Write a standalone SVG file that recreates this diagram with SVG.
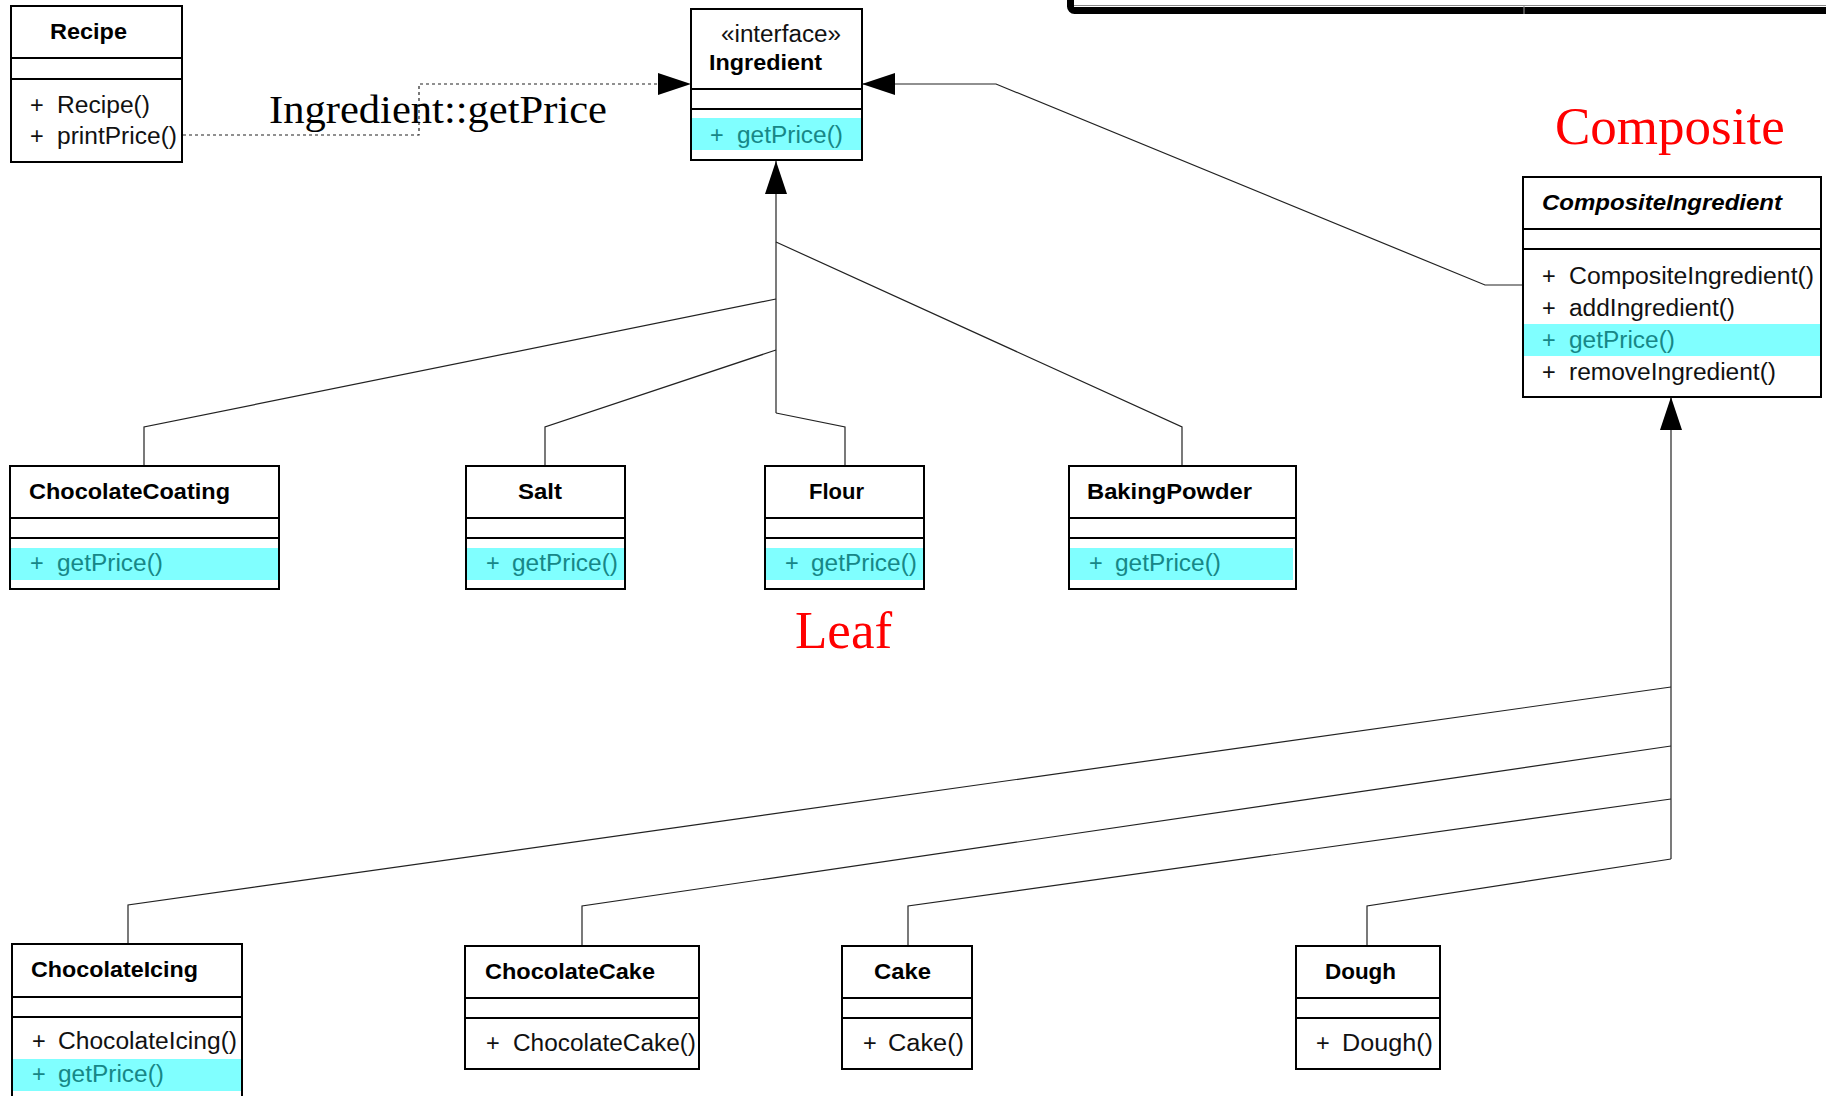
<svg xmlns="http://www.w3.org/2000/svg" width="1826" height="1096" viewBox="0 0 1826 1096">
<style>
.box{fill:#fff;stroke:#000;stroke-width:2}
.dv{stroke:#000;stroke-width:2}
.hl{fill:#80ffff}
.nm{font-family:"Liberation Sans",Arial,sans-serif;font-weight:bold;font-size:22px;fill:#000}
.it{font-style:italic}
.op{font-family:"Liberation Sans",Arial,sans-serif;font-size:23.5px;fill:#111}
.tl{fill:#178787}
.conn{fill:none;stroke:#222;stroke-width:1.2}
.dash{fill:none;stroke:#222;stroke-width:1.2;stroke-dasharray:3 3}
.red{font-family:"Liberation Serif","Times New Roman",serif;font-size:53px;fill:#ff0000}
.lbl{font-family:"Liberation Serif","Times New Roman",serif;font-size:41px;fill:#000}
</style>
<defs>
<marker id="tri" viewBox="0 0 33 22" refX="33" refY="11" markerWidth="33" markerHeight="22" markerUnits="userSpaceOnUse" orient="auto">
<path d="M0,0 L33,11 L0,22 Z" fill="#000"/>
</marker>
</defs>

<g id="frame-top-right">
<rect x="1070.5" y="-60" width="800" height="70.5" rx="4" fill="#fff" stroke="#000" stroke-width="7"/>
<line x1="1074" y1="5.5" x2="1826" y2="5.5" stroke="#888" stroke-width="1"/>
<line x1="1524" y1="6" x2="1524" y2="14" stroke="#999" stroke-width="1"/>
</g>

<g id="connectors">
<polyline class="dash" points="183,135 419,135 419,84 691,84" marker-end="url(#tri)"/>
<polyline class="conn" points="1523,285 1485,285 996,84 862,84" marker-end="url(#tri)"/>
<polyline class="conn" points="776,413 776,161" marker-end="url(#tri)"/>
<polyline class="conn" points="776,299 144,427 144,466"/>
<polyline class="conn" points="776,350 545,427 545,466"/>
<polyline class="conn" points="776,413 845,427 845,466"/>
<polyline class="conn" points="776,242 1182,427 1182,466"/>
<polyline class="conn" points="1671,859 1671,397" marker-end="url(#tri)"/>
<polyline class="conn" points="1671,687 128,905 128,944"/>
<polyline class="conn" points="1671,746 582,906 582,946"/>
<polyline class="conn" points="1671,799 908,906 908,946"/>
<polyline class="conn" points="1671,859 1367,906 1367,946"/>
</g>

<g id="label-getprice">
<text class="lbl" x="269" y="123" textLength="338" lengthAdjust="spacingAndGlyphs">Ingredient::getPrice</text>
</g>
<g id="label-composite">
<text class="red" x="1555" y="144">Composite</text>
</g>
<g id="label-leaf">
<text class="red" x="795" y="648">Leaf</text>
</g>

<g id="Recipe">
<rect class="box" x="11" y="6" width="171" height="156"/>
<line class="dv" x1="11" y1="58" x2="182" y2="58"/>
<line class="dv" x1="11" y1="79" x2="182" y2="79"/>
<text class="nm" x="50" y="39" textLength="77" lengthAdjust="spacingAndGlyphs">Recipe</text>
<text class="op" x="30" y="113">+</text>
<text class="op" x="57" y="113" textLength="93" lengthAdjust="spacingAndGlyphs">Recipe()</text>
<text class="op" x="30" y="144">+</text>
<text class="op" x="57" y="144" textLength="120" lengthAdjust="spacingAndGlyphs">printPrice()</text>
</g>

<g id="Ingredient">
<rect class="box" x="691" y="9" width="171" height="151"/>
<line class="dv" x1="691" y1="89" x2="862" y2="89"/>
<line class="dv" x1="691" y1="109" x2="862" y2="109"/>
<rect class="hl" x="692" y="118" width="169" height="32"/>
<text class="op" x="721" y="42" textLength="120" lengthAdjust="spacingAndGlyphs">«interface»</text>
<text class="nm" x="709" y="70" textLength="113" lengthAdjust="spacingAndGlyphs">Ingredient</text>
<text class="op tl" x="710" y="143">+</text>
<text class="op tl" x="737" y="143" textLength="106" lengthAdjust="spacingAndGlyphs">getPrice()</text>
</g>

<g id="CompositeIngredient">
<rect class="box" x="1523" y="177" width="298" height="220"/>
<line class="dv" x1="1523" y1="229" x2="1821" y2="229"/>
<line class="dv" x1="1523" y1="249" x2="1821" y2="249"/>
<rect class="hl" x="1524" y="324" width="296" height="32"/>
<text class="nm it" x="1542" y="210" textLength="240" lengthAdjust="spacingAndGlyphs">CompositeIngredient</text>
<text class="op" x="1542" y="284">+</text>
<text class="op" x="1569" y="284" textLength="245" lengthAdjust="spacingAndGlyphs">CompositeIngredient()</text>
<text class="op" x="1542" y="316">+</text>
<text class="op" x="1569" y="316" textLength="166" lengthAdjust="spacingAndGlyphs">addIngredient()</text>
<text class="op tl" x="1542" y="348">+</text>
<text class="op tl" x="1569" y="348" textLength="106" lengthAdjust="spacingAndGlyphs">getPrice()</text>
<text class="op" x="1542" y="380">+</text>
<text class="op" x="1569" y="380" textLength="207" lengthAdjust="spacingAndGlyphs">removeIngredient()</text>
</g>

<g id="ChocolateCoating">
<rect class="box" x="10" y="466" width="269" height="123"/>
<line class="dv" x1="10" y1="518" x2="279" y2="518"/>
<line class="dv" x1="10" y1="538" x2="279" y2="538"/>
<rect class="hl" x="11" y="548" width="267" height="32"/>
<text class="nm" x="29" y="499" textLength="201" lengthAdjust="spacingAndGlyphs">ChocolateCoating</text>
<text class="op tl" x="30" y="571">+</text>
<text class="op tl" x="57" y="571" textLength="106" lengthAdjust="spacingAndGlyphs">getPrice()</text>
</g>

<g id="Salt">
<rect class="box" x="466" y="466" width="159" height="123"/>
<line class="dv" x1="466" y1="518" x2="625" y2="518"/>
<line class="dv" x1="466" y1="538" x2="625" y2="538"/>
<rect class="hl" x="467" y="548" width="157" height="32"/>
<text class="nm" x="518" y="499" textLength="44" lengthAdjust="spacingAndGlyphs">Salt</text>
<text class="op tl" x="486" y="571">+</text>
<text class="op tl" x="512" y="571" textLength="106" lengthAdjust="spacingAndGlyphs">getPrice()</text>
</g>

<g id="Flour">
<rect class="box" x="765" y="466" width="159" height="123"/>
<line class="dv" x1="765" y1="518" x2="924" y2="518"/>
<line class="dv" x1="765" y1="538" x2="924" y2="538"/>
<rect class="hl" x="766" y="548" width="157" height="32"/>
<text class="nm" x="809" y="499" textLength="55" lengthAdjust="spacingAndGlyphs">Flour</text>
<text class="op tl" x="785" y="571">+</text>
<text class="op tl" x="811" y="571" textLength="106" lengthAdjust="spacingAndGlyphs">getPrice()</text>
</g>

<g id="BakingPowder">
<rect class="box" x="1069" y="466" width="227" height="123"/>
<line class="dv" x1="1069" y1="518" x2="1296" y2="518"/>
<line class="dv" x1="1069" y1="538" x2="1296" y2="538"/>
<rect class="hl" x="1070" y="548" width="223" height="32"/>
<text class="nm" x="1087" y="499" textLength="165" lengthAdjust="spacingAndGlyphs">BakingPowder</text>
<text class="op tl" x="1089" y="571">+</text>
<text class="op tl" x="1115" y="571" textLength="106" lengthAdjust="spacingAndGlyphs">getPrice()</text>
</g>

<g id="ChocolateIcing">
<rect class="box" x="12" y="944" width="230" height="160"/>
<line class="dv" x1="12" y1="997" x2="242" y2="997"/>
<line class="dv" x1="12" y1="1017" x2="242" y2="1017"/>
<rect class="hl" x="13" y="1059" width="228" height="32"/>
<text class="nm" x="31" y="977" textLength="167" lengthAdjust="spacingAndGlyphs">ChocolateIcing</text>
<text class="op" x="32" y="1049">+</text>
<text class="op" x="58" y="1049" textLength="179" lengthAdjust="spacingAndGlyphs">ChocolateIcing()</text>
<text class="op tl" x="32" y="1082">+</text>
<text class="op tl" x="58" y="1082" textLength="106" lengthAdjust="spacingAndGlyphs">getPrice()</text>
</g>

<g id="ChocolateCake">
<rect class="box" x="465" y="946" width="234" height="123"/>
<line class="dv" x1="465" y1="998" x2="699" y2="998"/>
<line class="dv" x1="465" y1="1018" x2="699" y2="1018"/>
<text class="nm" x="485" y="979" textLength="170" lengthAdjust="spacingAndGlyphs">ChocolateCake</text>
<text class="op" x="486" y="1051">+</text>
<text class="op" x="513" y="1051" textLength="183" lengthAdjust="spacingAndGlyphs">ChocolateCake()</text>
</g>

<g id="Cake">
<rect class="box" x="842" y="946" width="130" height="123"/>
<line class="dv" x1="842" y1="998" x2="972" y2="998"/>
<line class="dv" x1="842" y1="1018" x2="972" y2="1018"/>
<text class="nm" x="874" y="979" textLength="57" lengthAdjust="spacingAndGlyphs">Cake</text>
<text class="op" x="863" y="1051">+</text>
<text class="op" x="888" y="1051" textLength="76" lengthAdjust="spacingAndGlyphs">Cake()</text>
</g>

<g id="Dough">
<rect class="box" x="1296" y="946" width="144" height="123"/>
<line class="dv" x1="1296" y1="998" x2="1440" y2="998"/>
<line class="dv" x1="1296" y1="1018" x2="1440" y2="1018"/>
<text class="nm" x="1325" y="979" textLength="71" lengthAdjust="spacingAndGlyphs">Dough</text>
<text class="op" x="1316" y="1051">+</text>
<text class="op" x="1342" y="1051" textLength="91" lengthAdjust="spacingAndGlyphs">Dough()</text>
</g>
</svg>
